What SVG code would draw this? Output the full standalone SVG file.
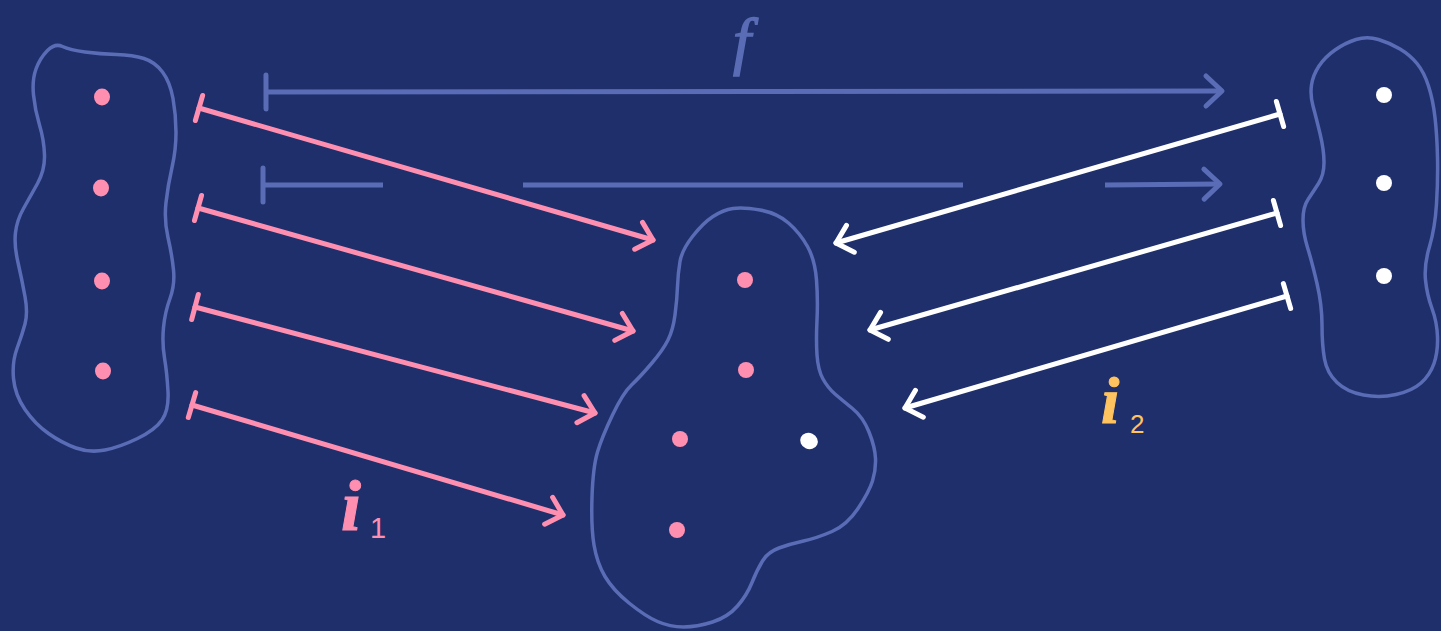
<svg xmlns="http://www.w3.org/2000/svg" width="1441" height="631" viewBox="0 0 1441 631">
<style>
.blob{fill:none;stroke:#5a6cb5;stroke-width:3.5;stroke-linejoin:round}
.pk{fill:#ff8fb0}
.wt{fill:#ffffff}
.lp{fill:none;stroke:#ff8fb0;stroke-width:5;stroke-linecap:round}
.lw{fill:none;stroke:#ffffff;stroke-width:5;stroke-linecap:round}
.lb{fill:none;stroke:#5a6cb5;stroke-width:5;stroke-linecap:butt}
</style>
<defs>
<marker id="ahP" markerUnits="userSpaceOnUse" orient="auto" overflow="visible" refX="0" refY="0" markerWidth="1" markerHeight="1"><path d="M-15,-14 L0,0 L-15,14" fill="none" stroke="#ff8fb0" stroke-width="5" stroke-linecap="round" stroke-linejoin="round"/></marker>
<marker id="teeP" markerUnits="userSpaceOnUse" orient="auto" overflow="visible" refX="0" refY="0" markerWidth="1" markerHeight="1"><path d="M0,-13 L0,13" fill="none" stroke="#ff8fb0" stroke-width="5" stroke-linecap="round"/></marker>
<marker id="ahW" markerUnits="userSpaceOnUse" orient="auto" overflow="visible" refX="0" refY="0" markerWidth="1" markerHeight="1"><path d="M-15,-14 L0,0 L-15,14" fill="none" stroke="#ffffff" stroke-width="5" stroke-linecap="round" stroke-linejoin="round"/></marker>
<marker id="teeW" markerUnits="userSpaceOnUse" orient="auto" overflow="visible" refX="0" refY="0" markerWidth="1" markerHeight="1"><path d="M0,-13 L0,13" fill="none" stroke="#ffffff" stroke-width="5" stroke-linecap="round"/></marker>
<marker id="ahB" markerUnits="userSpaceOnUse" orient="auto" overflow="visible" refX="0" refY="0" markerWidth="1" markerHeight="1"><path d="M-16,-15 L0,0 L-16,15" fill="none" stroke="#5a6cb5" stroke-width="5" stroke-linecap="round" stroke-linejoin="round"/></marker>
<marker id="teeB" markerUnits="userSpaceOnUse" orient="auto" overflow="visible" refX="0" refY="0" markerWidth="1" markerHeight="1"><path d="M0,-17 L0,17" fill="none" stroke="#5a6cb5" stroke-width="5" stroke-linecap="round"/></marker>
</defs>
<rect width="1441" height="631" fill="#1f2f6b"/>

<g id="set-left">
<path class="blob" d="M47.5,50.5 Q55,43 62.5,46.5 Q70,50 85,52 Q100,54 116.5,54.5 Q133,55 144,58.5 Q155,62 162.5,72 Q170,82 173,98.5 Q176,115 176,132.5 Q176,150 172,167.5 Q168,185 166,202.5 Q164,220 168,237.5 Q172,255 173.5,270 Q175,285 170,298.5 Q165,312 163.5,327.5 Q162,343 164.5,358 Q167,373 168,391.5 Q169,410 162,420 Q155,430 137.5,438.5 Q120,447 105,450 Q90,453 76,448 Q62,443 48.5,433.5 Q35,424 25,409.5 Q15,395 13.5,378.5 Q12,362 17,348.5 Q22,335 25,324 Q28,313 25,296.5 Q22,280 18,262.5 Q14,245 15.5,232.5 Q17,220 23.5,208.5 Q30,197 37.5,183.5 Q45,170 44.5,155 Q44,140 39.5,125 Q35,110 33.5,95 Q32,80 36,69 Q40,58 47.5,50.5 Z"/>
<ellipse class="pk" cx="102" cy="97" rx="8" ry="8.5"/>
<ellipse class="pk" cx="101" cy="188" rx="8" ry="8.5"/>
<ellipse class="pk" cx="102" cy="281" rx="8" ry="8.5"/>
<ellipse class="pk" cx="103" cy="371" rx="8" ry="8.5"/>
</g>

<g id="set-middle">
<path class="blob" d="M733,208.5 Q743,207 760,210 Q777,213 788.5,223 Q800,233 807.5,246.5 Q815,260 816.5,280 Q818,300 817,320 Q816,340 817,355 Q818,370 823,379 Q828,388 835,394 Q842,400 852.5,408.5 Q863,417 869,432 Q875,447 875.5,458.5 Q876,470 872.5,481 Q869,492 858,508.5 Q847,525 832,531.5 Q817,538 803.5,541 Q790,544 779,548 Q768,552 762.5,561 Q757,570 752,582.5 Q747,595 737.5,606 Q728,617 712.5,622 Q697,627 683.5,627 Q670,627 657.5,621.5 Q645,616 629,603 Q613,590 605,576.5 Q597,563 594,545 Q591,527 592,497 Q593,467 597.5,452 Q602,437 612.5,415 Q623,393 631.5,385 Q640,377 651.5,363.5 Q663,350 668,340 Q673,330 675,315 Q677,300 677.5,286.5 Q678,273 680,261.5 Q682,250 692.5,236.5 Q703,223 713,216.5 Q723,210 733,208.5 Z"/>
<circle class="pk" cx="745" cy="280" r="8"/>
<circle class="pk" cx="746" cy="370" r="8"/>
<circle class="pk" cx="680" cy="439" r="8"/>
<ellipse class="wt" cx="809" cy="441" rx="9" ry="8" transform="rotate(25 809 441)"/>
<circle class="pk" cx="677" cy="530" r="8"/>
</g>

<g id="set-right">
<path class="blob" d="M1356,39.5 Q1367,36 1378.5,39.5 Q1390,43 1400,49 Q1410,55 1417,63.5 Q1424,72 1428.5,86 Q1433,100 1435,117.5 Q1437,135 1437.5,157.5 Q1438,180 1436.5,204 Q1435,228 1429.5,246.5 Q1424,265 1425.5,280 Q1427,295 1432,308.5 Q1437,322 1437.5,337 Q1438,352 1434,363.5 Q1430,375 1421,383 Q1412,391 1396,394.5 Q1380,398 1363.5,395 Q1347,392 1337,382.5 Q1327,373 1324.5,359 Q1322,345 1322,325 Q1322,305 1317,283.5 Q1312,262 1307.5,247.5 Q1303,233 1303,220 Q1303,207 1308,199.5 Q1313,192 1318.5,183.5 Q1324,175 1324,162.5 Q1324,150 1320,133.5 Q1316,117 1313,106 Q1310,95 1311.5,85 Q1313,75 1319,66 Q1325,57 1335,50 Q1345,43 1356,39.5 Z"/>
<circle class="wt" cx="1384" cy="95" r="8"/>
<circle class="wt" cx="1384" cy="183" r="8"/>
<circle class="wt" cx="1384" cy="276" r="8"/>
</g>

<g id="connectors">
<path class="lb" d="M266,92 L1222,91" marker-start="url(#teeB)" marker-end="url(#ahB)"/>
<path class="lb" d="M263,185 L383,185" marker-start="url(#teeB)"/>
<path class="lb" d="M523,185 L963,185"/>
<path class="lb" d="M1105,185 L1220,184" marker-end="url(#ahB)"/>

<path class="lp" d="M199,108 L653,240" marker-start="url(#teeP)" marker-end="url(#ahP)"/>
<path class="lp" d="M198,208 L633,331" marker-start="url(#teeP)" marker-end="url(#ahP)"/>
<path class="lp" d="M195,307 L595,413" marker-start="url(#teeP)" marker-end="url(#ahP)"/>
<path class="lp" d="M192,405 L563,515" marker-start="url(#teeP)" marker-end="url(#ahP)"/>

<path class="lw" d="M1280,114 L836,243" marker-start="url(#teeW)" marker-end="url(#ahW)"/>
<path class="lw" d="M1277,213 L870,330" marker-start="url(#teeW)" marker-end="url(#ahW)"/>
<path class="lw" d="M1287,296 L905,408" marker-start="url(#teeW)" marker-end="url(#ahW)"/>
</g>

<g id="labels">
<text x="742" y="62" font-family="Liberation Serif, serif" font-style="italic" font-size="64" fill="#5a6cb5" stroke="#5a6cb5" stroke-width="1.5" text-anchor="middle">f</text>
<text x="341" y="530" font-family="Liberation Serif, serif" font-style="italic" font-weight="bold" font-size="72" fill="#ff8fb0" stroke="#ff8fb0" stroke-width="1">i</text>
<text x="370" y="538" font-family="Liberation Sans, sans-serif" font-size="29" fill="#ff8fb0">1</text>
<text x="1101" y="423" font-family="Liberation Serif, serif" font-style="italic" font-weight="bold" font-size="66" fill="#ffc35f" stroke="#ffc35f" stroke-width="1">i</text>
<text x="1130" y="433" font-family="Liberation Sans, sans-serif" font-size="26" fill="#ffc35f">2</text>
</g>
</svg>
